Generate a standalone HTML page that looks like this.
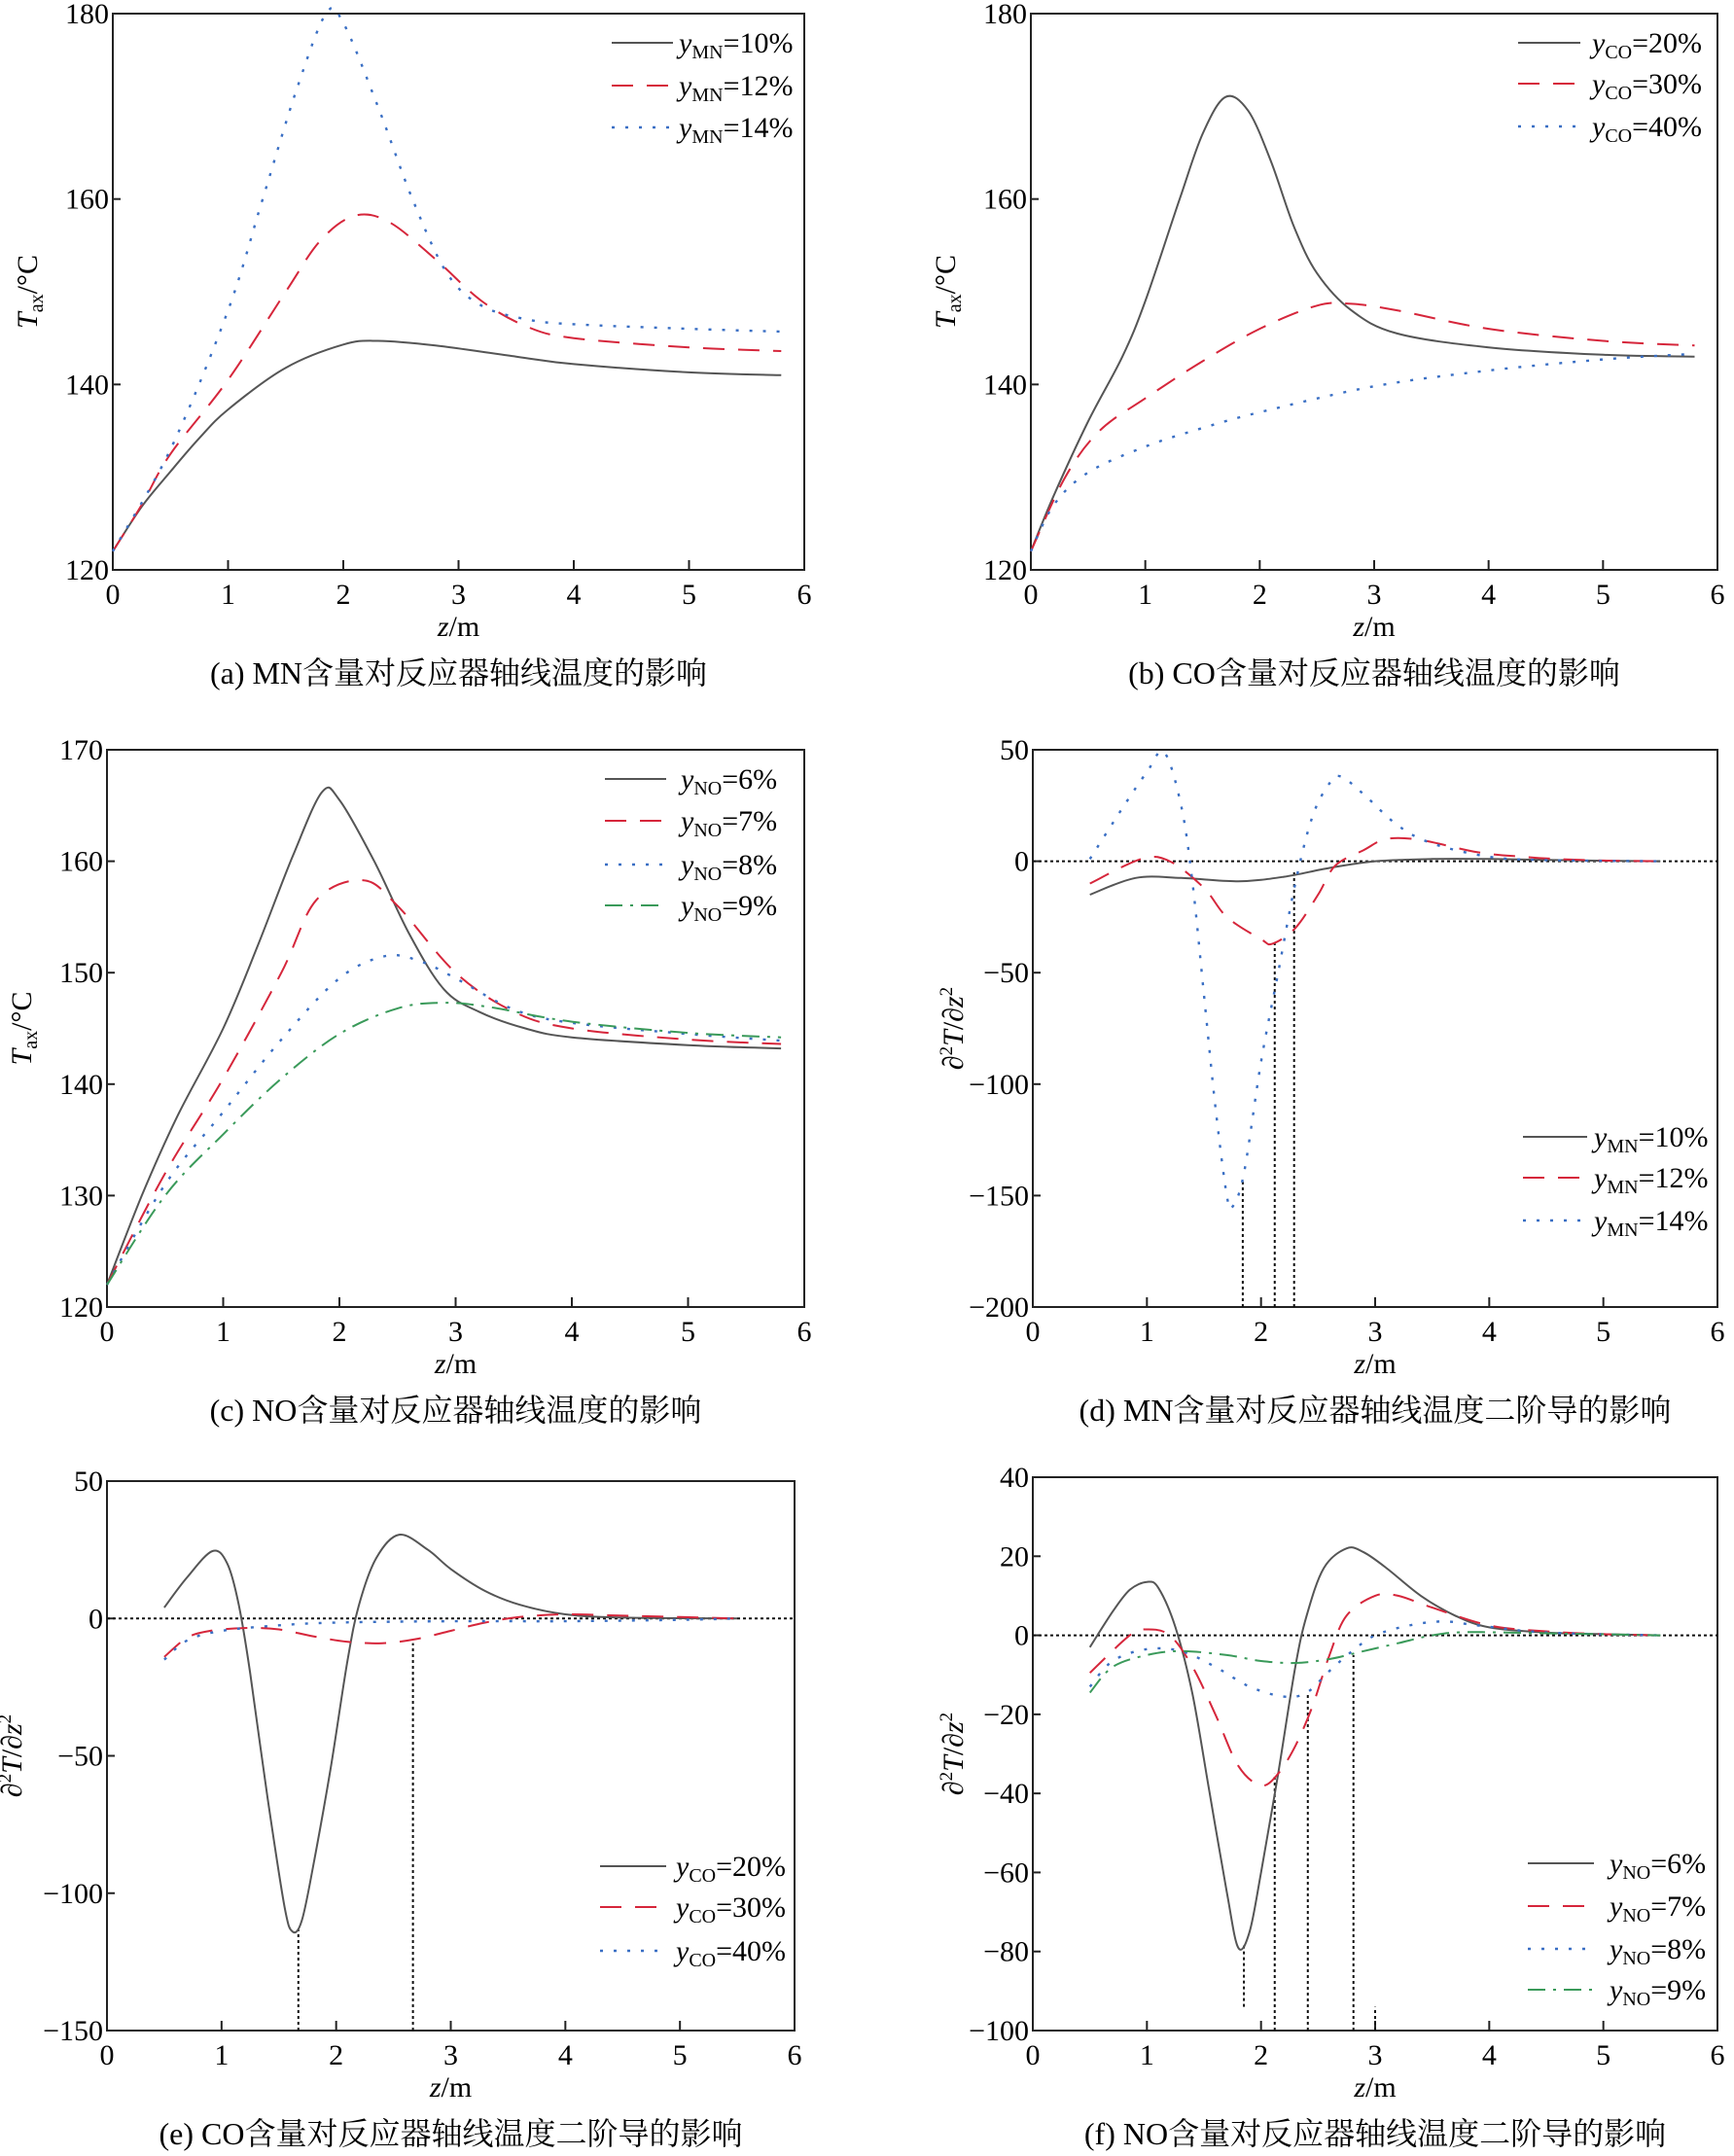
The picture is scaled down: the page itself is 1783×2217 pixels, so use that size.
<!DOCTYPE html>
<html><head><meta charset="utf-8">
<style>
html,body{margin:0;padding:0;background:#fff;}
svg{display:block;font-family:"Liberation Serif","Noto Serif CJK SC",serif;}
</style></head>
<body>
<svg id="fig" width="1783" height="2217" viewBox="0 0 1783 2217" xmlns="http://www.w3.org/2000/svg"></svg>
<script>
// ---- data ----
// panel a: MN content, axial temperature
const aZ10=[0,0.25,0.5,0.75,1,1.5,2,2.3,2.8,3.5,4,5,5.8];
const aT10=[122,126.8,130.6,134.2,137.3,141.8,144.3,144.7,144.2,143,142.2,141.3,141.0];
const aZ12=[0,0.25,0.5,1,1.5,1.8,2.1,2.4,2.8,3.2,3.6,4,5,5.8];
const aT12=[122,127,132.5,140.5,150,155.5,158.2,157.5,153.5,149,146.2,145,144,143.6];
const aZ14=[0,0.5,1,1.3,1.6,1.85,2.0,2.3,2.6,2.9,3.2,3.6,4,5,5.8];
const aT14=[122,133,148,160,172,180,179,170,160,152,148.5,147,146.5,146,145.7];
// panel b: CO content
const bZ20=[0,0.2,0.5,0.8,1,1.3,1.5,1.7,1.9,2.1,2.3,2.5,2.8,3.2,4,5,5.8];
const bT20=[122,128,136,143,149,160,167,171,169.5,164,157,152,148,145.5,144,143.2,143];
const bZ30=[0,0.3,0.6,1,1.5,2,2.5,2.8,3.2,4,5,5.8];
const bT30=[122,130,135,138.5,142.5,146,148.5,148.7,148,146,144.7,144.2];
const bZ40=[0,0.2,0.5,1,1.5,2,3,4,5,5.8];
const bT40=[122,127,130.5,133.3,135.3,137,139.8,141.5,142.7,143.3];
// panel c: NO content
const cZ6=[0,0.3,0.6,1,1.3,1.6,1.85,2.0,2.3,2.6,2.9,3.2,3.6,4,5,5.8];
const cT6=[122,130,137,145,152.5,160.5,166.2,165.5,160,153.5,148.5,146.5,145,144.2,143.5,143.2];
const cZ7=[0,0.5,1,1.5,1.8,2.2,2.5,3,3.5,4,5,5.8];
const cT7=[122,132,140.5,150,156.5,158.3,156,150,146.5,145,144,143.6];
const cZ8=[0,0.5,1,1.5,2,2.4,2.7,3,3.5,4,5,5.8];
const cT8=[122,131,137.5,144,149.5,151.5,151,149.5,146.7,145.5,144.5,143.9];
const cZ9=[0,0.5,1,1.5,2,2.5,2.9,3.3,4,5,5.8];
const cT9=[122,130,135.5,140.5,144.5,146.8,147.3,146.9,145.6,144.6,144.2];
// panel d: MN second derivative
const dZ10=[0.5,0.9,1.3,1.8,2.2,2.6,3.0,3.5,4,5,5.5];
const dV10=[-15,-7.5,-7.5,-9,-7,-3,0,1,1,0.2,0];
const dZ12=[0.5,0.95,1.2,1.5,1.7,2.0,2.1,2.3,2.5,2.65,2.9,3.1,3.4,3.9,4.3,4.6,5,5.5];
const dV12=[-10,1,0,-12,-25,-35,-37,-30,-15,-2,5,10,9.5,4,2,1,0.3,0];
const dZ14=[0.5,0.8,1.0,1.15,1.3,1.4,1.5,1.6,1.7,1.75,1.85,2.0,2.15,2.3,2.45,2.6,2.7,2.9,3.2,3.5,4.0,4.5,5.5];
const dV14=[1,25,40,49,25,-10,-60,-110,-150,-155,-140,-90,-50,-10,20,35,38,30,16,8,2,0.5,0];
const dMarkZ=[1.84,2.12,2.29];
const dMarkV=[-143,-36,-5];
// panel e: CO second derivative
const eZ20=[0.5,0.7,0.92,1.05,1.15,1.25,1.4,1.55,1.62,1.7,1.8,1.95,2.1,2.2,2.35,2.55,2.8,3.0,3.3,3.6,4,4.5,5.5];
const eV20=[4,15,24.5,20,5,-20,-65,-105,-114,-110,-90,-55,-15,5,22,30.5,25,18,10,5,1.5,0.3,0];
const eZ30=[0.5,0.7,0.9,1.2,1.5,1.8,2.1,2.4,2.7,3.0,3.3,3.6,4,4.5,5,5.5];
const eV30=[-14,-7,-4.5,-3.5,-4,-6.5,-8.5,-9,-7.5,-4.5,-1.5,0.5,1.5,1,0.5,0];
const eZ40=[0.5,0.7,1.0,1.5,2,3,4,5,5.5];
const eV40=[-15,-8,-4.5,-2.5,-1.5,-1,-1,-0.5,0];
const eMarkZ=[1.67,2.67];
const eMarkV=[-113,-9];
// panel f: NO second derivative
const fZ6=[0.5,0.7,0.85,1.0,1.1,1.25,1.4,1.55,1.7,1.8,1.9,2.0,2.15,2.3,2.4,2.55,2.75,2.9,3.1,3.4,3.7,4,4.5,5,5.5];
const fV6=[-3,6,11.5,13.5,12,2,-15,-40,-65,-79,-75,-60,-35,-8,5,17,22,21,17,10,5,2,0.7,0.3,0];
const fZ7=[0.5,0.85,1.0,1.2,1.4,1.6,1.8,2.0,2.15,2.3,2.45,2.6,2.75,3.0,3.2,3.5,4,4.5,5,5.5];
const fV7=[-9.5,0,1.5,0,-8,-20,-33,-38,-35,-28,-18,-5,5,10,10,7,2.5,1,0.3,0];
const fZ8=[0.5,0.7,1.0,1.3,1.6,1.9,2.2,2.4,2.6,2.8,3.0,3.3,3.6,3.9,4.5,5.5];
const fV8=[-13,-6.5,-3.5,-4,-8,-13,-15.5,-14.5,-9,-4,0,2.5,3.5,2.5,0.7,0];
const fZ9=[0.5,0.7,1.0,1.3,1.7,2.0,2.3,2.6,2.9,3.2,3.5,3.8,4.5,5.5];
const fV9=[-14.5,-8,-5,-4,-5,-6.5,-7,-6,-4,-2,0,0.8,0.5,0];
const fMarkZ=[1.85,2.12,2.41,2.81,3.0];
const fMarkV=[-78,-35,-14.5,-5,-94];
const fMarkBase=[-94,-100,-100,-100,-100];
const xTicks=[0,1,2,3,4,5,6];

// ---- drawing ----
const NS="http://www.w3.org/2000/svg";
const svg=document.getElementById('fig');
const COL={k:'#555',r:'#d6263b',b:'#3a6fc4',g:'#3a9a5a'};
const DASH={k:'',r:'22 14',b:'3 11',g:'18 8 3 8'};
function mk(tag,parent){const e=document.createElementNS(NS,tag);parent.appendChild(e);return e;}
function smoothPath(pts){
  let d='M'+pts[0][0].toFixed(1)+','+pts[0][1].toFixed(1);
  for(let i=0;i<pts.length-1;i++){
    const p0=pts[Math.max(0,i-1)],p1=pts[i],p2=pts[i+1],p3=pts[Math.min(pts.length-1,i+2)];
    const c1=[p1[0]+(p2[0]-p0[0])/6,p1[1]+(p2[1]-p0[1])/6];
    const c2=[p2[0]-(p3[0]-p1[0])/6,p2[1]-(p3[1]-p1[1])/6];
    d+=' C'+c1[0].toFixed(1)+','+c1[1].toFixed(1)+' '+c2[0].toFixed(1)+','+c2[1].toFixed(1)+' '+p2[0].toFixed(1)+','+p2[1].toFixed(1);
  }
  return d;
}
function panel(cfg){
  const g=mk('g',svg);
  
  
  const X=v=>cfg.x0+(v-0)/6*(cfg.x1-cfg.x0);
  const Y=v=>cfg.yb-(v-cfg.ymin)/(cfg.ymax-cfg.ymin)*(cfg.yb-cfg.yt);
  const fr=mk('rect',g);
  
  
  fr.setAttribute('x',cfg.x0);fr.setAttribute('y',cfg.yt);
  fr.setAttribute('width',cfg.x1-cfg.x0);fr.setAttribute('height',cfg.yb-cfg.yt);
  fr.setAttribute('fill','none');fr.setAttribute('stroke','#222');fr.setAttribute('stroke-width','2');
  xTicks.forEach(t=>{
    const l=mk('line',g);
    
    
    l.setAttribute('x1',X(t));l.setAttribute('x2',X(t));l.setAttribute('y1',cfg.yb);l.setAttribute('y2',cfg.yb-10);
    l.setAttribute('stroke','#222');l.setAttribute('stroke-width','2');
    const tx=mk('text',g);
    
    
    tx.setAttribute('x',X(t));tx.setAttribute('y',cfg.yb+35);tx.setAttribute('text-anchor','middle');
    tx.setAttribute('font-size','30');tx.textContent=t;
  });
  cfg.yticks.forEach(t=>{
    const l=mk('line',g);
    
    
    l.setAttribute('x1',cfg.x0);l.setAttribute('x2',cfg.x0+8);l.setAttribute('y1',Y(t));l.setAttribute('y2',Y(t));
    l.setAttribute('stroke','#222');l.setAttribute('stroke-width','2');
    const tx=mk('text',g);
    
    
    tx.setAttribute('x',cfg.x0-4);tx.setAttribute('y',Y(t)+10);tx.setAttribute('text-anchor','end');
    tx.setAttribute('font-size','30');tx.textContent=(t<0?'\u2212'+(-t):t);
  });
  const xt=mk('text',g);
  
  
  xt.setAttribute('x',(cfg.x0+cfg.x1)/2);xt.setAttribute('y',cfg.yb+68);xt.setAttribute('text-anchor','middle');xt.setAttribute('font-size','30');
  xt.innerHTML='<tspan font-style="italic">z</tspan>/m';
  const yt=mk('text',g);
  
  
  const cy=(cfg.yt+cfg.yb)/2;
  yt.setAttribute('transform','translate('+cfg.ytx+','+cy+') rotate(-90)');
  yt.setAttribute('text-anchor','middle');yt.setAttribute('font-size','30');
  yt.innerHTML=cfg.ytitle;
  const cp=mk('text',g);
  
  
  cp.setAttribute('x',(cfg.x0+cfg.x1)/2);cp.setAttribute('y',cfg.yb+117);cp.setAttribute('text-anchor','middle');cp.setAttribute('font-size','32');
  cp.textContent=cfg.caption;
  if(cfg.zero){
    const z=mk('line',g);
    
    
    z.setAttribute('x1',cfg.x0);z.setAttribute('x2',cfg.x1);z.setAttribute('y1',Y(0));z.setAttribute('y2',Y(0));
    z.setAttribute('stroke','#111');z.setAttribute('stroke-width','2');z.setAttribute('stroke-dasharray','3 3');
  }
  if(cfg.markZ){
    cfg.markZ.forEach((mz,i)=>{
      const l=mk('line',g);
      
      
      const base=cfg.markBase?cfg.markBase[i]:cfg.ymin;
      l.setAttribute('x1',X(mz));l.setAttribute('x2',X(mz));l.setAttribute('y1',Y(base));l.setAttribute('y2',Y(cfg.markV[i]));
      l.setAttribute('stroke','#111');l.setAttribute('stroke-width','2');l.setAttribute('stroke-dasharray','3 3');
    });
  }
  cfg.series.forEach(s=>{
    const p=mk('path',g);
    
    
    const pts=s.z.map((z,i)=>[X(z),Y(s.v[i])]);
    p.setAttribute('d',smoothPath(pts));
    p.setAttribute('fill','none');p.setAttribute('stroke',COL[s.c]);
    p.setAttribute('stroke-width',s.c==='b'?'2.4':'2');
    if(DASH[s.c])p.setAttribute('stroke-dasharray',DASH[s.c]);
  });
  const lg=mk('g',g);
  
  
  cfg.series.forEach((s,i)=>{
    const y=cfg.leg.y[i];
    const l=mk('line',lg);
    
    
    l.setAttribute('x1',cfg.leg.x1);l.setAttribute('x2',cfg.leg.x2);l.setAttribute('y1',y);l.setAttribute('y2',y);
    l.setAttribute('stroke',COL[s.c]);l.setAttribute('stroke-width',s.c==='b'?'2.4':'2');
    if(DASH[s.c])l.setAttribute('stroke-dasharray',DASH[s.c]);
    const t=mk('text',lg);
    
    
    t.setAttribute('x',cfg.leg.tx);t.setAttribute('y',y+10);t.setAttribute('font-size','30');
    t.innerHTML='<tspan font-style="italic">y</tspan><tspan font-size="20" dy="6">'+cfg.leg.sub+'</tspan><tspan dy="-6">='+s.label+'</tspan>';
  });
}
const TAX='<tspan font-style="italic">T</tspan><tspan font-size="20" dy="6">ax</tspan><tspan dy="-6">/°C</tspan>';
const D2='∂<tspan font-size="19" dy="-11">2</tspan><tspan dy="11" font-style="italic">T</tspan>/∂<tspan font-style="italic">z</tspan><tspan font-size="19" dy="-11">2</tspan>';
panel({name:'panel-a-mn-temperature',x0:116,x1:827,yt:14,yb:586,ymin:120,ymax:180,yticks:[120,140,160,180],ytx:38,ytitle:TAX,
  caption:'(a) MN含量对反应器轴线温度的影响',
  series:[{name:'series-mn-10',z:aZ10,v:aT10,c:'k',label:'10%'},{name:'series-mn-12',z:aZ12,v:aT12,c:'r',label:'12%'},{name:'series-mn-14',z:aZ14,v:aT14,c:'b',label:'14%'}],
  leg:{x1:629,x2:692,tx:698,y:[44,88,131],sub:'MN'}});
panel({name:'panel-b-co-temperature',x0:1060,x1:1766,yt:14,yb:586,ymin:120,ymax:180,yticks:[120,140,160,180],ytx:982,ytitle:TAX,
  caption:'(b) CO含量对反应器轴线温度的影响',
  series:[{name:'series-co-20',z:bZ20,v:bT20,c:'k',label:'20%'},{name:'series-co-30',z:bZ30,v:bT30,c:'r',label:'30%'},{name:'series-co-40',z:bZ40,v:bT40,c:'b',label:'40%'}],
  leg:{x1:1561,x2:1625,tx:1637,y:[44,86,130],sub:'CO'}});
panel({name:'panel-c-no-temperature',x0:110,x1:827,yt:771,yb:1344,ymin:120,ymax:170,yticks:[120,130,140,150,160,170],ytx:32,ytitle:TAX,
  caption:'(c) NO含量对反应器轴线温度的影响',
  series:[{name:'series-no-6',z:cZ6,v:cT6,c:'k',label:'6%'},{name:'series-no-7',z:cZ7,v:cT7,c:'r',label:'7%'},{name:'series-no-8',z:cZ8,v:cT8,c:'b',label:'8%'},{name:'series-no-9',z:cZ9,v:cT9,c:'g',label:'9%'}],
  leg:{x1:622,x2:685,tx:700,y:[801,844,889,931],sub:'NO'}});
panel({name:'panel-d-mn-second-derivative',x0:1062,x1:1766,yt:771,yb:1344,ymin:-200,ymax:50,yticks:[-200,-150,-100,-50,0,50],ytx:990,ytitle:D2,zero:true,
  caption:'(d) MN含量对反应器轴线温度二阶导的影响',markZ:dMarkZ,markV:dMarkV,
  series:[{name:'series-mn-10',z:dZ10,v:dV10,c:'k',label:'10%'},{name:'series-mn-12',z:dZ12,v:dV12,c:'r',label:'12%'},{name:'series-mn-14',z:dZ14,v:dV14,c:'b',label:'14%'}],
  leg:{x1:1566,x2:1632,tx:1639,y:[1169,1211,1255],sub:'MN'}});
panel({name:'panel-e-co-second-derivative',x0:110,x1:817,yt:1523,yb:2088,ymin:-150,ymax:50,yticks:[-150,-100,-50,0,50],ytx:22,ytitle:D2,zero:true,
  caption:'(e) CO含量对反应器轴线温度二阶导的影响',markZ:eMarkZ,markV:eMarkV,
  series:[{name:'series-co-20',z:eZ20,v:eV20,c:'k',label:'20%'},{name:'series-co-30',z:eZ30,v:eV30,c:'r',label:'30%'},{name:'series-co-40',z:eZ40,v:eV40,c:'b',label:'40%'}],
  leg:{x1:617,x2:685,tx:695,y:[1919,1961,2006],sub:'CO'}});
panel({name:'panel-f-no-second-derivative',x0:1062,x1:1766,yt:1519,yb:2088,ymin:-100,ymax:40,yticks:[-100,-80,-60,-40,-20,0,20,40],ytx:990,ytitle:D2,zero:true,
  caption:'(f) NO含量对反应器轴线温度二阶导的影响',markZ:fMarkZ,markV:fMarkV,markBase:fMarkBase,
  series:[{name:'series-no-6',z:fZ6,v:fV6,c:'k',label:'6%'},{name:'series-no-7',z:fZ7,v:fV7,c:'r',label:'7%'},{name:'series-no-8',z:fZ8,v:fV8,c:'b',label:'8%'},{name:'series-no-9',z:fZ9,v:fV9,c:'g',label:'9%'}],
  leg:{x1:1571,x2:1639,tx:1655,y:[1916,1960,2004,2046],sub:'NO'}});
</script>
</body></html>
